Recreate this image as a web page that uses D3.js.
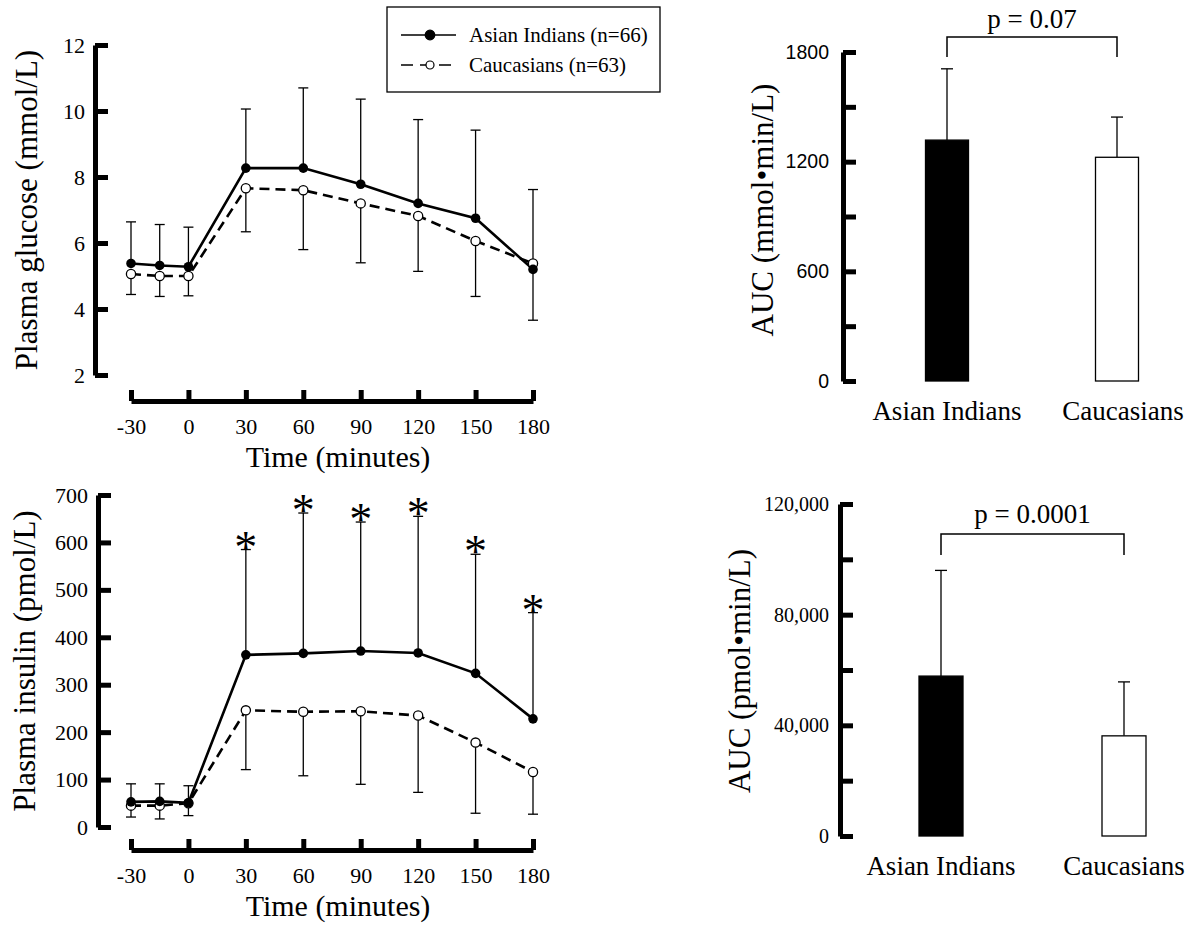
<!DOCTYPE html>
<html>
<head>
<meta charset="utf-8">
<script src="https://cdn.jsdelivr.net/npm/d3@7"></script>
<style>
  html, body { margin: 0; padding: 0; background: #fff; }
  svg { display: block; }
  text { font-family: "Liberation Serif", "Times New Roman", serif; fill: #000; }
</style>
</head>
<body>
<svg id="chart" width="1193" height="926"></svg>
<script>
// ---------- DATA ----------
const times = [-30, -15, 0, 30, 60, 90, 120, 150, 180];
const timeTicks = [-30, 0, 30, 60, 90, 120, 150, 180];

const glucoseAsian      = [5.38, 5.32, 5.28, 8.27, 8.27, 7.78, 7.20, 6.75, 5.20];
const glucoseAsianUpper = [6.64, 6.56, 6.48, 10.06, 10.70, 10.36, 9.74, 9.42, 7.62];
const glucoseCauc       = [5.06, 5.00, 5.00, 7.66, 7.60, 7.20, 6.82, 6.06, 5.38];
const glucoseCaucLower  = [4.44, 4.38, 4.40, 6.34, 5.80, 5.40, 5.14, 4.38, 3.66];
const glucoseTicks = [2, 4, 6, 8, 10, 12];

const insulinAsian      = [53, 54, 51, 363, 366, 371, 367, 324, 228];
const insulinAsianUpper = [91, 91, 87, 585, 662, 643, 655, 575, 452];
const insulinCauc       = [45, 45, 50, 246, 243, 244, 235, 178, 116];
const insulinCaucLower  = [21, 17, 24, 121, 108, 90, 73, 29, 27];
const insulinTicks = [0, 100, 200, 300, 400, 500, 600, 700];
const insulinStars = [false, false, false, true, true, true, true, true, true];

const groups = ["Asian Indians", "Caucasians"];
const legendLabels = ["Asian Indians (n=66)", "Caucasians (n=63)"];

const aucGlucose      = [1318, 1224];
const aucGlucoseUpper = [1708, 1444];
const aucGlucoseTicks = [0, 300, 600, 900, 1200, 1500, 1800];
const aucGlucoseTickLabels = ["0", "", "600", "", "1200", "", "1800"];
const aucGlucoseP = "p = 0.07";

const aucInsulin      = [57800, 36200];
const aucInsulinUpper = [96000, 55700];
const aucInsulinTicks = [0, 20000, 40000, 60000, 80000, 100000, 120000];
const aucInsulinTickLabels = ["0", "", "40,000", "", "80,000", "", "120,000"];
const aucInsulinP = "p = 0.0001";

// ---------- DRAWING ----------
const svg = d3.select("#chart");

function styleAxis(g, fontSize, family) {
  g.attr("fill", null).attr("font-size", null).attr("font-family", null);
  g.select(".domain").style("stroke", "#000").style("stroke-width", "5px").style("fill", "none");
  g.selectAll(".tick line").style("stroke", "#000").style("stroke-width", "5px");
  g.selectAll(".tick text").style("fill", "#000")
    .style("font-size", fontSize + "px")
    .style("font-family", family || '"Liberation Serif", "Times New Roman", serif');
}

function linePanel(cfg) {
  const x = d3.scaleLinear().domain([-30, 180]).range([131, 533]);
  const y = d3.scaleLinear().domain(cfg.yDomain).range(cfg.yRange);

  // y axis
  const gy = svg.append("g").attr("transform", `translate(${cfg.yAxisX},0)`)
    .call(d3.axisLeft(y).tickValues(cfg.yTicks).tickFormat(d => String(d))
      .tickSizeInner(-13).tickSizeOuter(0).tickPadding(10));
  styleAxis(gy, 22);

  // x axis
  const gx = svg.append("g").attr("transform", `translate(0,${cfg.xAxisY})`)
    .call(d3.axisBottom(x).tickValues(timeTicks).tickFormat(d => String(d))
      .tickSizeInner(-11).tickSizeOuter(0).tickPadding(17));
  styleAxis(gx, 22);

  // axis titles
  svg.append("text").attr("x", 338).attr("y", cfg.xAxisY + 66)
    .attr("text-anchor", "middle").style("font-size", "30px").text("Time (minutes)");
  svg.append("text")
    .attr("transform", `translate(${cfg.yLabelX},${(cfg.yRange[0] + cfg.yRange[1]) / 2}) rotate(-90)`)
    .attr("text-anchor", "middle").style("font-size", "31px").text(cfg.yLabel);

  const cap = 5;
  // error bars: Asian up, Caucasian down
  const eb = svg.append("g").attr("stroke", "#000").attr("stroke-width", 1.3);
  times.forEach((t, i) => {
    const xi = x(t);
    eb.append("line").attr("x1", xi).attr("x2", xi).attr("y1", y(cfg.asian[i])).attr("y2", y(cfg.asianUpper[i]));
    eb.append("line").attr("x1", xi - cap).attr("x2", xi + cap).attr("y1", y(cfg.asianUpper[i])).attr("y2", y(cfg.asianUpper[i]));
    eb.append("line").attr("x1", xi).attr("x2", xi).attr("y1", y(cfg.cauc[i])).attr("y2", y(cfg.caucLower[i]));
    eb.append("line").attr("x1", xi - cap).attr("x2", xi + cap).attr("y1", y(cfg.caucLower[i])).attr("y2", y(cfg.caucLower[i]));
  });

  const line = d3.line().x((d, i) => x(times[i])).y(d => y(d));
  svg.append("path").datum(cfg.cauc).attr("d", line)
    .attr("fill", "none").attr("stroke", "#000").attr("stroke-width", 2.6).attr("stroke-dasharray", "10,6");
  svg.append("path").datum(cfg.asian).attr("d", line)
    .attr("fill", "none").attr("stroke", "#000").attr("stroke-width", 2.6);

  svg.append("g").selectAll("circle").data(cfg.cauc).join("circle")
    .attr("cx", (d, i) => x(times[i])).attr("cy", d => y(d)).attr("r", 4.6)
    .attr("fill", "#fff").attr("stroke", "#000").attr("stroke-width", 1.3);
  svg.append("g").selectAll("circle").data(cfg.asian).join("circle")
    .attr("cx", (d, i) => x(times[i])).attr("cy", d => y(d)).attr("r", 4.8)
    .attr("fill", "#000");

  if (cfg.stars) {
    const starIdx = times.map((t, i) => i).filter(i => cfg.stars[i]);
    svg.append("g").selectAll("text").data(starIdx).join("text")
      .attr("x", i => x(times[i]))
      .attr("y", i => y(cfg.asianUpper[i]) + 13)
      .attr("text-anchor", "middle").style("font-size", "46px").text("*");
  }
}

linePanel({
  yDomain: [2, 12], yRange: [375, 45], yTicks: glucoseTicks, yAxisX: 95, xAxisY: 401,
  yLabel: "Plasma glucose (mmol/L)", yLabelX: 37,
  asian: glucoseAsian, asianUpper: glucoseAsianUpper, cauc: glucoseCauc, caucLower: glucoseCaucLower
});

linePanel({
  yDomain: [0, 700], yRange: [827, 495], yTicks: insulinTicks, yAxisX: 98, xAxisY: 850,
  yLabel: "Plasma insulin (pmol/L)", yLabelX: 35,
  asian: insulinAsian, asianUpper: insulinAsianUpper, cauc: insulinCauc, caucLower: insulinCaucLower,
  stars: insulinStars
});

// legend
const lg = svg.append("g");
lg.append("rect").attr("x", 387).attr("y", 7).attr("width", 273).attr("height", 85)
  .attr("fill", "#fff").attr("stroke", "#000").attr("stroke-width", 1.3);
[0, 1].forEach(k => {
  const yy = k === 0 ? 35 : 65;
  lg.append("line").attr("x1", 401).attr("x2", 456).attr("y1", yy).attr("y2", yy)
    .attr("stroke", "#000").attr("stroke-width", 1.3)
    .attr("stroke-dasharray", k === 0 ? null : "12,7");
  lg.append("circle").attr("cx", 430).attr("cy", yy).attr("r", k === 0 ? 4.8 : 4)
    .attr("fill", k === 0 ? "#000" : "#fff").attr("stroke", "#000").attr("stroke-width", 1.2);
  lg.append("text").attr("x", 469).attr("y", yy + 7).style("font-size", "21px").text(legendLabels[k]);
});

// ---------- bar panels ----------
function barPanel(cfg) {
  const x = d3.scalePoint().domain(groups).range(cfg.xCenters);
  const y = d3.scaleLinear().domain(cfg.yDomain).range(cfg.yRange);
  const bw = cfg.barWidth;

  const gy = svg.append("g").attr("transform", `translate(${cfg.yAxisX},0)`)
    .call(d3.axisLeft(y).tickValues(cfg.ticks).tickFormat((d, i) => cfg.tickLabels[i])
      .tickSizeInner(-13).tickSizeOuter(0).tickPadding(cfg.tickPad));
  styleAxis(gy, cfg.tickFont, cfg.tickFamily);

  svg.append("text")
    .attr("transform", `translate(${cfg.yLabelX},${cfg.yLabelY}) rotate(-90)`)
    .attr("text-anchor", "middle").style("font-size", "31px").text(cfg.yLabel);

  // error bars
  groups.forEach((g, i) => {
    const cx = x(g);
    svg.append("line").attr("x1", cx).attr("x2", cx).attr("y1", y(cfg.values[i])).attr("y2", y(cfg.upper[i]))
      .attr("stroke", "#000").attr("stroke-width", 1.3);
    svg.append("line").attr("x1", cx - 6).attr("x2", cx + 6).attr("y1", y(cfg.upper[i])).attr("y2", y(cfg.upper[i]))
      .attr("stroke", "#000").attr("stroke-width", 1.3);
  });

  svg.append("g").selectAll("rect").data(cfg.values).join("rect")
    .attr("x", (d, i) => x(groups[i]) - bw / 2)
    .attr("y", d => y(d))
    .attr("width", bw)
    .attr("height", d => y(0) - y(d))
    .attr("fill", (d, i) => i === 0 ? "#000" : "#fff")
    .attr("stroke", "#000").attr("stroke-width", 1.3);

  svg.append("g").selectAll("text").data(groups).join("text")
    .attr("x", d => x(d) + (d === groups[1] ? cfg.labelShift : 0))
    .attr("y", cfg.labelY).attr("text-anchor", "middle").style("font-size", "27px").text(d => d);

  // significance bracket
  const bx0 = x(groups[0]), bx1 = x(groups[1]);
  svg.append("path")
    .attr("d", `M${bx0},${cfg.bracketBottom}V${cfg.bracketTop}H${bx1}V${cfg.bracketBottom}`)
    .attr("fill", "none").attr("stroke", "#000").attr("stroke-width", 1.5);
  svg.append("text").attr("x", (bx0 + bx1) / 2).attr("y", cfg.pY)
    .attr("text-anchor", "middle").style("font-size", "27px").text(cfg.pText);
}

barPanel({
  xCenters: [947, 1117], barWidth: 43,
  yDomain: [0, 1800], yRange: [381, 52], yAxisX: 843,
  ticks: aucGlucoseTicks, tickLabels: aucGlucoseTickLabels, tickPad: 14, tickFont: 19.5,
  tickFamily: '"Liberation Sans", Arial, sans-serif',
  yLabel: "AUC (mmol\u2022min/L)", yLabelX: 773, yLabelY: 210,
  values: aucGlucose, upper: aucGlucoseUpper,
  labelY: 420, labelShift: 6,
  bracketTop: 37, bracketBottom: 57, pText: aucGlucoseP, pY: 28
});

barPanel({
  xCenters: [941, 1124], barWidth: 44,
  yDomain: [0, 120000], yRange: [836, 504], yAxisX: 840,
  ticks: aucInsulinTicks, tickLabels: aucInsulinTickLabels, tickPad: 11, tickFont: 20,
  yLabel: "AUC (pmol\u2022min/L)", yLabelX: 750, yLabelY: 671,
  values: aucInsulin, upper: aucInsulinUpper,
  labelY: 875, labelShift: 0,
  bracketTop: 534, bracketBottom: 555, pText: aucInsulinP, pY: 523
});
</script>
</body>
</html>
